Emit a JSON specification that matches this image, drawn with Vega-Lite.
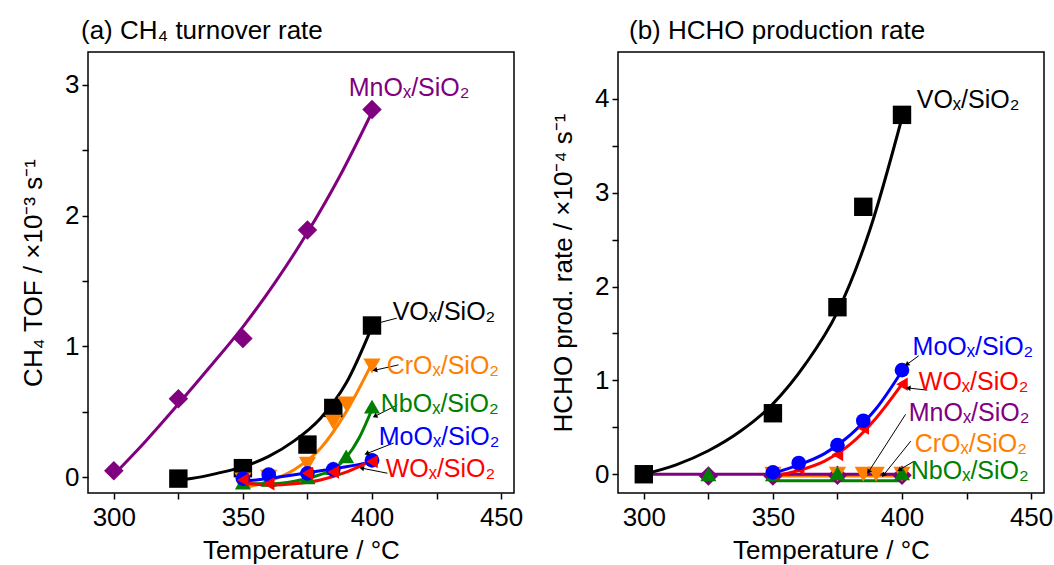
{
  "$schema": "https://vega.github.io/schema/vega-lite/v6.json",
  "background": "white",
  "padding": {"left": 19, "top": 17, "right": 5, "bottom": 0},
  "spacing": 25,
  "config": {
    "font": "Liberation Sans",
    "view": {"stroke": "black", "strokeWidth": 1.5},
    "axis": {
      "grid": false, "domain": false, "tickColor": "black", "tickWidth": 1.5, "tickSize": 6,
      "labelFontSize": 26, "labelColor": "black", "labelFont": "Liberation Sans", "labelPadding": 5,
      "titleFontSize": 26, "titleFontWeight": "normal", "titleColor": "black", "titleFont": "Liberation Sans"
    },
    "title": {"fontSize": 26, "fontWeight": "normal", "font": "Liberation Sans", "color": "black", "anchor": "start", "frame": "group"}
  },
  "datasets": {
    "a_pts": [
      {"cat": "MnOx", "T": 300, "v": 0.05}, {"cat": "MnOx", "T": 325, "v": 0.60}, {"cat": "MnOx", "T": 350, "v": 1.06}, {"cat": "MnOx", "T": 375, "v": 1.89}, {"cat": "MnOx", "T": 400, "v": 2.81},
      {"cat": "VOx", "T": 325, "v": -0.01}, {"cat": "VOx", "T": 350, "v": 0.07}, {"cat": "VOx", "T": 375, "v": 0.25}, {"cat": "VOx", "T": 385, "v": 0.53}, {"cat": "VOx", "T": 400, "v": 1.16},
      {"cat": "CrOx", "T": 350, "v": -0.02}, {"cat": "CrOx", "T": 360, "v": 0.0}, {"cat": "CrOx", "T": 375, "v": 0.10}, {"cat": "CrOx", "T": 385, "v": 0.42}, {"cat": "CrOx", "T": 390, "v": 0.56}, {"cat": "CrOx", "T": 400, "v": 0.85},
      {"cat": "NbOx", "T": 350, "v": -0.04}, {"cat": "NbOx", "T": 360, "v": -0.02}, {"cat": "NbOx", "T": 375, "v": 0.0}, {"cat": "NbOx", "T": 385, "v": 0.07}, {"cat": "NbOx", "T": 390, "v": 0.16}, {"cat": "NbOx", "T": 400, "v": 0.54},
      {"cat": "MoOx", "T": 350, "v": -0.01}, {"cat": "MoOx", "T": 360, "v": 0.02}, {"cat": "MoOx", "T": 375, "v": 0.03}, {"cat": "MoOx", "T": 385, "v": 0.06}, {"cat": "MoOx", "T": 400, "v": 0.13},
      {"cat": "WOx", "T": 350, "v": -0.02}, {"cat": "WOx", "T": 360, "v": -0.05}, {"cat": "WOx", "T": 375, "v": 0.03}, {"cat": "WOx", "T": 385, "v": 0.04}, {"cat": "WOx", "T": 400, "v": 0.12}
    ],
    "a_fit": [
      {"cat": "MnOx", "T": 300, "v": 0.02}, {"cat": "MnOx", "T": 312.5, "v": 0.28}, {"cat": "MnOx", "T": 325, "v": 0.56}, {"cat": "MnOx", "T": 337.5, "v": 0.85}, {"cat": "MnOx", "T": 350, "v": 1.15}, {"cat": "MnOx", "T": 362.5, "v": 1.49}, {"cat": "MnOx", "T": 375, "v": 1.87}, {"cat": "MnOx", "T": 387.5, "v": 2.30}, {"cat": "MnOx", "T": 400, "v": 2.79},
      {"cat": "VOx", "T": 322, "v": -0.03}, {"cat": "VOx", "T": 330, "v": -0.01}, {"cat": "VOx", "T": 340, "v": 0.03}, {"cat": "VOx", "T": 350, "v": 0.08}, {"cat": "VOx", "T": 360, "v": 0.16}, {"cat": "VOx", "T": 370, "v": 0.28}, {"cat": "VOx", "T": 380, "v": 0.45}, {"cat": "VOx", "T": 390, "v": 0.72}, {"cat": "VOx", "T": 400, "v": 1.15},
      {"cat": "CrOx", "T": 350, "v": -0.08}, {"cat": "CrOx", "T": 360, "v": -0.03}, {"cat": "CrOx", "T": 370, "v": 0.06}, {"cat": "CrOx", "T": 380, "v": 0.22}, {"cat": "CrOx", "T": 390, "v": 0.50}, {"cat": "CrOx", "T": 400, "v": 0.87},
      {"cat": "NbOx", "T": 350, "v": -0.05}, {"cat": "NbOx", "T": 360, "v": -0.05}, {"cat": "NbOx", "T": 370, "v": -0.03}, {"cat": "NbOx", "T": 380, "v": 0.02}, {"cat": "NbOx", "T": 385, "v": 0.06}, {"cat": "NbOx", "T": 390, "v": 0.15}, {"cat": "NbOx", "T": 395, "v": 0.30}, {"cat": "NbOx", "T": 400, "v": 0.52},
      {"cat": "MoOx", "T": 350, "v": -0.03}, {"cat": "MoOx", "T": 360, "v": -0.01}, {"cat": "MoOx", "T": 370, "v": 0.02}, {"cat": "MoOx", "T": 380, "v": 0.05}, {"cat": "MoOx", "T": 390, "v": 0.08}, {"cat": "MoOx", "T": 400, "v": 0.12},
      {"cat": "WOx", "T": 350, "v": -0.04}, {"cat": "WOx", "T": 360, "v": -0.06}, {"cat": "WOx", "T": 370, "v": -0.05}, {"cat": "WOx", "T": 380, "v": -0.02}, {"cat": "WOx", "T": 390, "v": 0.04}, {"cat": "WOx", "T": 400, "v": 0.13}
    ],
    "a_lbl": [
      {"cat": "MnOx", "label": "MnOₓ/SiO₂", "T": 391.0, "v": 2.976},
      {"cat": "VOx", "label": "VOₓ/SiO₂", "T": 408.0, "v": 1.264},
      {"cat": "CrOx", "label": "CrOₓ/SiO₂", "T": 405.7, "v": 0.851},
      {"cat": "NbOx", "label": "NbOₓ/SiO₂", "T": 403.4, "v": 0.560},
      {"cat": "MoOx", "label": "MoOₓ/SiO₂", "T": 402.6, "v": 0.308},
      {"cat": "WOx", "label": "WOₓ/SiO₂", "T": 405.3, "v": 0.063}
    ],
    "a_arr": [
      {"cat": "VOx", "x1": 409.6, "y1": 1.216, "x2": 402.6, "y2": 1.18},
      {"cat": "CrOx", "x1": 410.3, "y1": 0.859, "x2": 401.4, "y2": 0.82},
      {"cat": "NbOx", "x1": 409.8, "y1": 0.553, "x2": 401.4, "y2": 0.469},
      {"cat": "MoOx", "x1": 408.4, "y1": 0.262, "x2": 398.2, "y2": 0.183},
      {"cat": "WOx", "x1": 406.0, "y1": 0.031, "x2": 396.3, "y2": 0.069}
    ],
    "b_pts": [
      {"cat": "MnOx", "T": 325, "v": -0.02}, {"cat": "MnOx", "T": 350, "v": -0.02}, {"cat": "MnOx", "T": 375, "v": -0.01}, {"cat": "MnOx", "T": 400, "v": -0.01},
      {"cat": "CrOx", "T": 350, "v": 0.0}, {"cat": "CrOx", "T": 375, "v": 0.0}, {"cat": "CrOx", "T": 385, "v": 0.0}, {"cat": "CrOx", "T": 390, "v": 0.0}, {"cat": "CrOx", "T": 400, "v": 0.0},
      {"cat": "NbOx", "T": 325, "v": 0.0}, {"cat": "NbOx", "T": 350, "v": 0.0}, {"cat": "NbOx", "T": 375, "v": 0.01}, {"cat": "NbOx", "T": 400, "v": 0.01},
      {"cat": "WOx", "T": 350, "v": 0.0}, {"cat": "WOx", "T": 360, "v": 0.06}, {"cat": "WOx", "T": 375, "v": 0.21}, {"cat": "WOx", "T": 385, "v": 0.49}, {"cat": "WOx", "T": 400, "v": 0.96},
      {"cat": "MoOx", "T": 350, "v": 0.02}, {"cat": "MoOx", "T": 360, "v": 0.12}, {"cat": "MoOx", "T": 375, "v": 0.31}, {"cat": "MoOx", "T": 385, "v": 0.57}, {"cat": "MoOx", "T": 400, "v": 1.11},
      {"cat": "VOx", "T": 300, "v": 0.0}, {"cat": "VOx", "T": 350, "v": 0.65}, {"cat": "VOx", "T": 375, "v": 1.78}, {"cat": "VOx", "T": 385, "v": 2.85}, {"cat": "VOx", "T": 400, "v": 3.83}
    ],
    "b_fit": [
      {"cat": "NbOx", "T": 350, "v": -0.07}, {"cat": "NbOx", "T": 400, "v": -0.07},
      {"cat": "CrOx", "T": 350, "v": -0.02}, {"cat": "CrOx", "T": 400, "v": -0.02},
      {"cat": "MnOx", "T": 300, "v": 0.0}, {"cat": "MnOx", "T": 400, "v": 0.0},
      {"cat": "WOx", "T": 350, "v": -0.02}, {"cat": "WOx", "T": 360, "v": 0.04}, {"cat": "WOx", "T": 370, "v": 0.14}, {"cat": "WOx", "T": 380, "v": 0.32}, {"cat": "WOx", "T": 390, "v": 0.60}, {"cat": "WOx", "T": 400, "v": 0.96},
      {"cat": "MoOx", "T": 350, "v": 0.01}, {"cat": "MoOx", "T": 360, "v": 0.10}, {"cat": "MoOx", "T": 370, "v": 0.22}, {"cat": "MoOx", "T": 380, "v": 0.42}, {"cat": "MoOx", "T": 390, "v": 0.70}, {"cat": "MoOx", "T": 400, "v": 1.10},
      {"cat": "VOx", "T": 300, "v": 0.0}, {"cat": "VOx", "T": 312.5, "v": 0.10}, {"cat": "VOx", "T": 325, "v": 0.25}, {"cat": "VOx", "T": 337.5, "v": 0.46}, {"cat": "VOx", "T": 350, "v": 0.75}, {"cat": "VOx", "T": 362.5, "v": 1.17}, {"cat": "VOx", "T": 375, "v": 1.73}, {"cat": "VOx", "T": 387.5, "v": 2.60}, {"cat": "VOx", "T": 400, "v": 3.80}
    ],
    "b_lbl": [
      {"cat": "VOx", "label": "VOₓ/SiO₂", "T": 405.7, "v": 3.99},
      {"cat": "MoOx", "label": "MoOₓ/SiO₂", "T": 404.1, "v": 1.36},
      {"cat": "WOx", "label": "WOₓ/SiO₂", "T": 406.5, "v": 0.985},
      {"cat": "MnOx", "label": "MnOₓ/SiO₂", "T": 402.6, "v": 0.653},
      {"cat": "CrOx", "label": "CrOₓ/SiO₂", "T": 404.9, "v": 0.321},
      {"cat": "NbOx", "label": "NbOₓ/SiO₂", "T": 403.4, "v": 0.032}
    ],
    "b_arr": [
      {"cat": "MoOx", "x1": 406.5, "y1": 1.263, "x2": 402.1, "y2": 1.174},
      {"cat": "WOx", "x1": 409.8, "y1": 0.896, "x2": 402.7, "y2": 0.918},
      {"cat": "MnOx", "x1": 401.4, "y1": 0.639, "x2": 387.2, "y2": 0.032},
      {"cat": "CrOx", "x1": 403.4, "y1": 0.353, "x2": 393.0, "y2": -0.003},
      {"cat": "NbOx", "x1": 404.7, "y1": 0.139, "x2": 399.2, "y2": 0.05}
    ]
  },
  "hconcat": [
    {
      "width": 426, "height": 441,
      "title": {"text": "(a) CH₄ turnover rate", "dx": -7, "offset": 8},
      "encoding": {
        "x": {"type": "quantitative", "title": "Temperature / °C", "scale": {"domain": [290, 455], "nice": false, "zero": false},
              "axis": {"values": [300, 325, 350, 375, 400, 425, 450], "labelExpr": "datum.value % 50 === 0 ? format(datum.value, 'd') : ''", "titlePadding": 7}},
        "y": {"type": "quantitative", "title": "CH₄ TOF / ×10⁻³ s⁻¹", "scale": {"domain": [-0.12, 3.25], "nice": false, "zero": false},
              "axis": {"values": [0, 0.5, 1, 1.5, 2, 2.5, 3], "labelExpr": "datum.value % 1 === 0 ? format(datum.value, 'd') : ''", "titlePadding": 18, "labelPadding": 3}},
        "color": {"field": "cat", "type": "nominal", "legend": null,
                  "scale": {"domain": ["MnOx", "VOx", "CrOx", "NbOx", "MoOx", "WOx"], "range": ["#800080", "#000000", "#ff8000", "#008000", "#0000ff", "#ff0000"]}}
      },
      "layer": [
        {
          "data": {"name": "a_fit"},
          "mark": {"type": "line", "strokeWidth": 3, "interpolate": "monotone"},
          "encoding": {
            "x": {"field": "T"},
            "y": {"field": "v"},
            "detail": {"field": "cat"}
          }
        },
        {
          "data": {"name": "a_pts"},
          "mark": {"type": "point", "filled": true, "opacity": 1, "strokeWidth": 0},
          "encoding": {
            "x": {"field": "T"},
            "y": {"field": "v"},
            "shape": {"field": "cat", "type": "nominal", "legend": null,
                      "scale": {"domain": ["MnOx", "VOx", "CrOx", "NbOx", "MoOx", "WOx"], "range": ["diamond", "square", "triangle-down", "triangle-up", "circle", "triangle-left"]}},
            "size": {"field": "cat", "type": "nominal", "legend": null,
                     "scale": {"domain": ["MnOx", "VOx", "CrOx", "NbOx", "MoOx", "WOx"], "range": [380, 175, 180, 180, 160, 180]}}
          }
        },
        {
          "data": {"name": "a_arr"},
          "mark": {"type": "rule", "strokeWidth": 1},
          "encoding": {
            "x": {"field": "x1"},
            "y": {"field": "y1"},
            "x2": {"field": "x2"},
            "y2": {"field": "y2"},
            "color": {"value": "black"}
          }
        },
        {
          "data": {"name": "a_arr"},
          "transform": [{"calculate": "atan2((datum.x2 - datum.x1) * 2.58, (datum.y2 - datum.y1) * 130.8) * 180 / PI", "as": "ang"}],
          "mark": {"type": "point", "shape": "triangle", "filled": true, "opacity": 1, "size": 30},
          "encoding": {
            "x": {"field": "x2"},
            "y": {"field": "y2"},
            "color": {"value": "black"},
            "angle": {"field": "ang", "type": "quantitative", "scale": null}
          }
        },
        {
          "data": {"name": "a_lbl"},
          "mark": {"type": "text", "align": "left", "baseline": "middle", "fontSize": 25},
          "encoding": {
            "x": {"field": "T"},
            "y": {"field": "v"},
            "text": {"field": "label"}
          }
        }
      ]
    },
    {
      "width": 426, "height": 441,
      "title": {"text": "(b) HCHO production rate", "dx": 11, "offset": 8},
      "encoding": {
        "x": {"type": "quantitative", "title": "Temperature / °C", "scale": {"domain": [290, 455], "nice": false, "zero": false},
              "axis": {"values": [300, 325, 350, 375, 400, 425, 450], "labelExpr": "datum.value % 50 === 0 ? format(datum.value, 'd') : ''", "titlePadding": 7}},
        "y": {"type": "quantitative", "title": "HCHO prod. rate / ×10⁻⁴ s⁻¹", "scale": {"domain": [-0.2, 4.5], "nice": false, "zero": false},
              "axis": {"values": [0, 0.5, 1, 1.5, 2, 2.5, 3, 3.5, 4], "labelExpr": "datum.value % 1 === 0 ? format(datum.value, 'd') : ''", "titlePadding": 18, "labelPadding": 3}},
        "color": {"field": "cat", "type": "nominal", "legend": null}
      },
      "layer": [
        {
          "data": {"name": "b_fit"},
          "mark": {"type": "line", "strokeWidth": 3, "interpolate": "monotone"},
          "encoding": {
            "x": {"field": "T"},
            "y": {"field": "v"},
            "detail": {"field": "cat"}
          }
        },
        {
          "data": {"name": "b_pts"},
          "mark": {"type": "point", "filled": true, "opacity": 1, "strokeWidth": 0},
          "encoding": {
            "x": {"field": "T"},
            "y": {"field": "v"},
            "shape": {"field": "cat", "type": "nominal", "legend": null},
            "size": {"field": "cat", "type": "nominal", "legend": null}
          }
        },
        {
          "data": {"name": "b_arr"},
          "mark": {"type": "rule", "strokeWidth": 1},
          "encoding": {
            "x": {"field": "x1"},
            "y": {"field": "y1"},
            "x2": {"field": "x2"},
            "y2": {"field": "y2"},
            "color": {"value": "black"}
          }
        },
        {
          "data": {"name": "b_arr"},
          "transform": [{"calculate": "atan2((datum.x2 - datum.x1) * 2.58, (datum.y2 - datum.y1) * 93.4) * 180 / PI", "as": "ang"}],
          "mark": {"type": "point", "shape": "triangle", "filled": true, "opacity": 1, "size": 30},
          "encoding": {
            "x": {"field": "x2"},
            "y": {"field": "y2"},
            "color": {"value": "black"},
            "angle": {"field": "ang", "type": "quantitative", "scale": null}
          }
        },
        {
          "data": {"name": "b_lbl"},
          "mark": {"type": "text", "align": "left", "baseline": "middle", "fontSize": 25},
          "encoding": {
            "x": {"field": "T"},
            "y": {"field": "v"},
            "text": {"field": "label"}
          }
        }
      ]
    }
  ]
}
